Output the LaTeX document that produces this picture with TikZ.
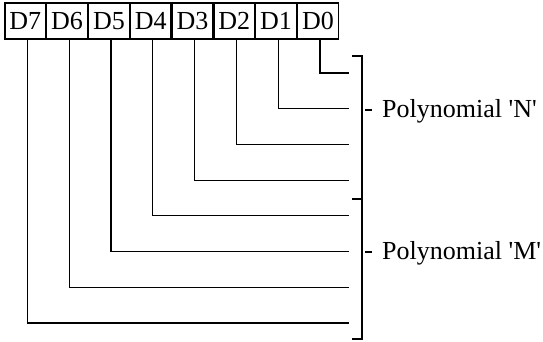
\documentclass[tikz,border=0pt]{standalone}
\usepackage{fontspec}
\setmainfont{Liberation Serif}
\usetikzlibrary{positioning}
\tikzset{
  regbit/.style={draw, line width=1.2pt, minimum width=40.6pt, minimum height=36pt,
    inner sep=0pt, font=\rmfamily\fontsize{26}{31}\selectfont},
  wire/.style={line width=1.2pt},
  polylabel/.style={anchor=base west, inner sep=0pt, font=\rmfamily\fontsize{26}{31}\selectfont}
}
\begin{document}
\begin{tikzpicture}[x=1pt, y=-1pt]
  \useasboundingbox (0,0) rectangle (543,341);
  % register D7 ... D0
  \node[regbit] (reg7) at (25.3,21) {D7};
  \foreach \b [evaluate=\b as \p using int(\b+1)] in {6,...,0}
    \node[regbit, right=0pt of reg\p] (reg\b) {D\b};
  % one wire per bit, down and to the right
  \foreach \b in {0,...,7} {
    \coordinate (end\b) at (349,73+35.7*\b);
    \draw[wire] ([xshift=2pt]reg\b.south) |- (end\b);
  }
  % brackets
  \coordinate (brTop) at (362,56);
  \coordinate (brMid) at (362,199);
  \coordinate (brBot) at (362,339);
  \draw[wire] ([xshift=-10pt]brTop) -- (brTop) -- (brBot) -- ([xshift=-10pt]brBot);
  \draw[wire] ([xshift=-10pt]brMid) -- (brMid);
  % labels
  \node[polylabel] (polyN) at (382,117) {Polynomial \textquotesingle N\textquotesingle};
  \node[polylabel] (polyM) at (382,259) {Polynomial \textquotesingle M\textquotesingle};
  \coordinate (dashN) at (365,110);
  \coordinate (dashM) at (365,252);
  \draw[wire] (dashN) -- ++(7,0);
  \draw[wire] (dashM) -- ++(7,0);
\end{tikzpicture}
\end{document}
